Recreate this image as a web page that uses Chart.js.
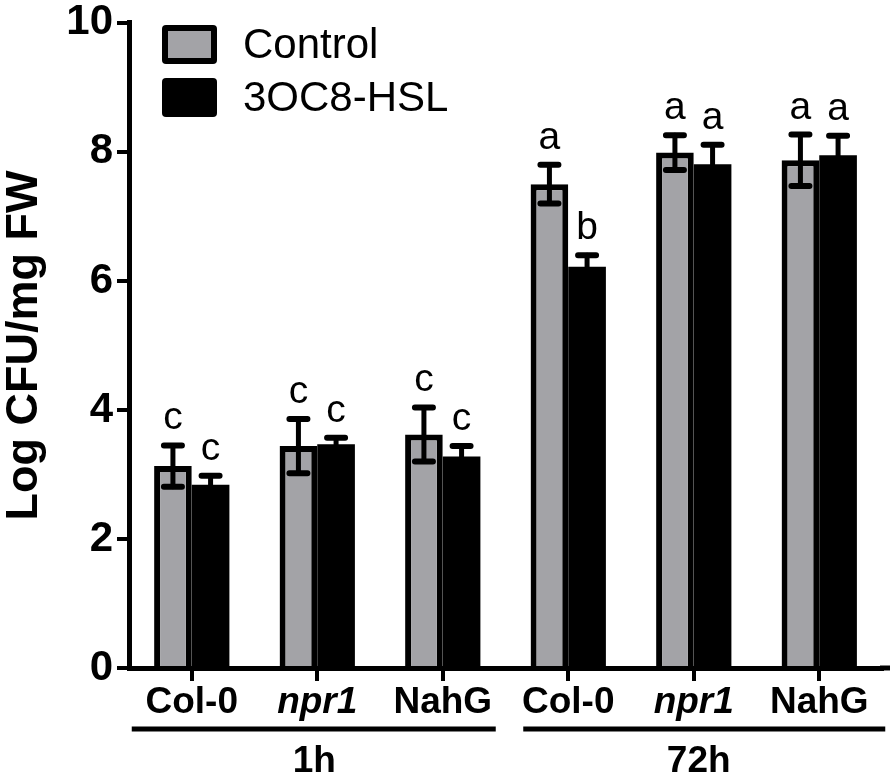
<!DOCTYPE html>
<html>
<head>
<meta charset="utf-8">
<script src="https://cdn.jsdelivr.net/npm/chart.js@4"></script>
<style>
  body { margin: 0; background: #fff; }
  #wrap { width: 894px; height: 774px; }
</style>
</head>
<body>
<div id="wrap"><canvas id="chart" width="894" height="774"></canvas></div>
<script>
// categories and values
const strains = ["Col-0", "npr1", "NahG", "Col-0", "npr1", "NahG"];
const timeGroups = ["1h", "72h"];
const controlMean = [3.13, 3.44, 3.62, 7.50, 7.99, 7.87];
const controlErr = [0.32, 0.42, 0.42, 0.30, 0.27, 0.40];
const hslMean = [2.84, 3.47, 3.28, 6.22, 7.81, 7.95];
const hslErr = [0.14, 0.10, 0.16, 0.18, 0.30, 0.30];
const controlLetters = ["c", "c", "c", "a", "a", "a"];
const hslLetters = ["c", "c", "c", "b", "a", "a"];
const yTicks = [0, 2, 4, 6, 8, 10];

const GRAY = "#a3a3a7";
const FONT = "'Liberation Sans', Arial, Helvetica, sans-serif";

// error bars, letters, legend and the 1h / 72h brackets
const extras = {
  id: "extras",
  afterDatasetsDraw(chart) {
    const ctx = chart.ctx;
    const y = chart.scales.y;
    const x = chart.scales.x;
    const errs = [controlErr, hslErr];
    const letters = [controlLetters, hslLetters];

    ctx.save();
    chart.data.datasets.forEach((ds, di) => {
      const meta = chart.getDatasetMeta(di);
      meta.data.forEach((bar, i) => {
        const v = ds.data[i];
        const top = y.getPixelForValue(v + errs[di][i]);
        const bot = y.getPixelForValue(v - errs[di][i]);
        ctx.strokeStyle = "#000";
        ctx.lineCap = "round";
        ctx.lineWidth = 5;
        ctx.beginPath();
        ctx.moveTo(bar.x, top);
        ctx.lineTo(bar.x, bot);
        ctx.stroke();
        ctx.lineWidth = 6;
        ctx.beginPath();
        ctx.moveTo(bar.x - 9, top);
        ctx.lineTo(bar.x + 9, top);
        ctx.moveTo(bar.x - 9, bot);
        ctx.lineTo(bar.x + 9, bot);
        ctx.stroke();

        ctx.fillStyle = "#000";
        ctx.font = "39px " + FONT;
        ctx.textAlign = "center";
        ctx.textBaseline = "alphabetic";
        ctx.fillText(letters[di][i], bar.x, top - 16);
      });
    });

    // stretch the x axis line a little past the last category
    ctx.lineCap = "butt";
    ctx.lineWidth = 5;
    ctx.beginPath();
    ctx.moveTo(chart.chartArea.right - 2, y.getPixelForValue(0));
    ctx.lineTo(890, y.getPixelForValue(0));
    ctx.stroke();

    // group brackets under the strain labels
    timeGroups.forEach((g, gi) => {
      const first = x.getPixelForValue(gi * 3);
      const last = x.getPixelForValue(gi * 3 + 2);
      const mid = x.getPixelForValue(gi * 3 + 1);
      ctx.lineWidth = 5;
      ctx.beginPath();
      ctx.moveTo(first - 60 + gi * 15, 729);
      ctx.lineTo(last + 53 + gi * 13, 729);
      ctx.stroke();
      ctx.font = "bold 37px " + FONT;
      ctx.textAlign = "center";
      ctx.textBaseline = "alphabetic";
      ctx.fillText(g, mid - 3 + gi * 8, 772);
    });

    // legend
    const items = [
      { label: "Control", fill: GRAY, y: 25 },
      { label: "3OC8-HSL", fill: "#000", y: 78 }
    ];
    items.forEach(it => {
      ctx.fillStyle = "#000";
      ctx.beginPath();
      ctx.roundRect(162, it.y, 55, 39, 4);
      ctx.fill();
      if (it.fill !== "#000") {
        ctx.fillStyle = it.fill;
        ctx.fillRect(168, it.y + 6, 43, 27);
      }
      ctx.fillStyle = "#000";
      ctx.font = "42px " + FONT;
      ctx.textAlign = "left";
      ctx.textBaseline = "middle";
      ctx.fillText(it.label, 243, it.y + 21);
    });
    ctx.restore();
  }
};

new Chart(document.getElementById("chart"), {
  type: "bar",
  data: {
    labels: strains,
    datasets: [
      {
        label: "Control",
        data: controlMean,
        backgroundColor: GRAY,
        borderColor: "#000",
        borderWidth: 6
      },
      {
        label: "3OC8-HSL",
        data: hslMean,
        backgroundColor: "#000",
        borderColor: "#000",
        borderWidth: 0
      }
    ]
  },
  options: {
    responsive: false,
    devicePixelRatio: 1,
    animation: false,
    layout: { padding: { left: 0, top: 20, right: 12, bottom: 0 } },
    datasets: { bar: { barPercentage: 1.0, categoryPercentage: 0.6 } },
    plugins: {
      legend: { display: false },
      tooltip: { enabled: false }
    },
    scales: {
      x: {
        offset: true,
        afterFit: s => { s.height = 106; },
        border: { display: true, color: "#000", width: 5 },
        grid: {
          offset: false,
          drawOnChartArea: false,
          drawTicks: true,
          tickLength: 13,
          color: "#000",
          lineWidth: 4
        },
        ticks: {
          color: "#000",
          padding: 0,
          maxRotation: 0,
          font: c => ({
            family: FONT,
            size: 37,
            weight: "bold",
            style: c.index % 3 === 1 ? "italic" : "normal"
          })
        }
      },
      y: {
        min: 0,
        max: 10,
        afterFit: s => { s.width = 129; },
        afterBuildTicks: s => { s.ticks = yTicks.map(v => ({ value: v })); },
        border: { display: true, color: "#000", width: 5 },
        grid: {
          drawOnChartArea: false,
          drawTicks: true,
          tickLength: 12,
          color: "#000",
          lineWidth: 4
        },
        ticks: {
          color: "#000",
          padding: 4,
          font: { family: FONT, size: 42, weight: "bold", lineHeight: 0.9 }
        },
        title: {
          display: true,
          text: "Log CFU/mg FW",
          color: "#000",
          padding: 0,
          font: { family: FONT, size: 45, weight: "bold", lineHeight: 1.1 }
        }
      }
    }
  },
  plugins: [extras]
});
</script>
</body>
</html>
